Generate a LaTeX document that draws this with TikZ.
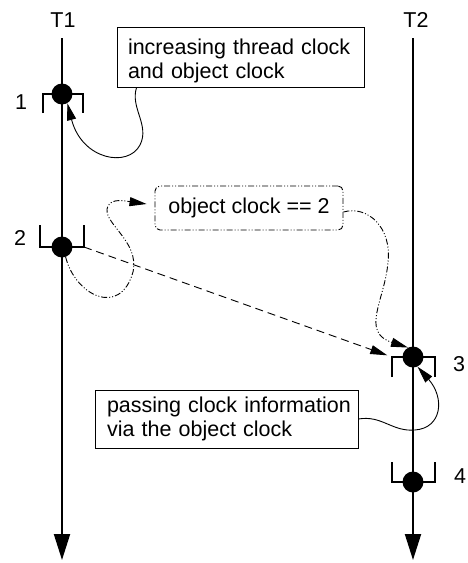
\documentclass[tikz,border=0pt]{standalone}
\usepackage{fontspec}
\setmainfont{Liberation Sans}
\usetikzlibrary{arrows.meta,calc}
\begin{document}
\begin{tikzpicture}[x=1pt,y=-1pt,
  every node/.style={font=\fontsize{21.5}{23.5}\selectfont},
  axis/.style={line width=2pt,-{Triangle[length=26pt,width=16pt]}},
  brk/.style={line width=1.8pt},
  event/.style={circle,fill=black,minimum size=21pt,inner sep=0pt},
  note/.style={draw,line width=0.9pt,align=left,inner ysep=0pt},
  link/.style={line width=0.9pt,-{Triangle[length=17pt,width=9pt]}},
  dashdot/.style={dash pattern=on 6pt off 2pt on 1pt off 2pt on 1pt off 2pt},
]
\useasboundingbox (0,0) rectangle (467,563);

% thread time lines
\node (t1) at (63,20) {T1};
\node (t2) at (416,20) {T2};
\coordinate (t1top) at (62,38);
\coordinate (t1end) at (62,560);
\coordinate (t2top) at (413,38);
\coordinate (t2end) at (413,560);
\draw[axis] (t1top) -- (t1end);
\draw[axis] (t2top) -- (t2end);

% synchronisation brackets
\draw[brk] (43,113) |- (83,94) -- (83,113);
\draw[brk] (40,225) |- (84,247) -- (84,225);
\draw[brk] (392,377) |- (435,357) -- (435,377);
\draw[brk] (392,462) |- (435,482) -- (435,462);
\coordinate (b2r) at (84,247);
\coordinate (b3l) at (392,357);

% events
\node[event] (e1) at (62,94) {};
\node[event] (e2) at (62,247) {};
\node[event] (e3) at (413,357) {};
\node[event] (e4) at (413,482) {};
\node (n1) at (21,102) {1};
\node (n2) at (20,238) {2};
\node (n3) at (459,364) {3};
\node (n4) at (460,476) {4};

% notes
\node[note,text width=225pt,inner xsep=11pt,minimum height=60pt] (box1) at (240.5,57)
  {\rule{0pt}{23.5pt}increasing thread clock\\and object clock};
\node[note,text width=239pt,inner xsep=12pt,minimum height=58pt] (box3) at (226.5,419)
  {\mbox{passing clock information}\\via the object clock};
\node[draw,line width=0.9pt,dashdot,rounded corners=5pt,minimum width=188pt,
  minimum height=44pt,inner sep=0pt] (box2) at (249,208) {object clock == 2};

% connectors
\draw[link] ([xshift=20pt]box1.south west) .. controls (130,108) and (150,125) .. (140,145)
  .. controls (128,168) and (82,160) .. (e1.-60);
\draw[link] (box3.east) .. controls (382,415) and (392,432) .. (415,430)
  .. controls (442,428) and (445,398) .. (e3.-65);
\draw[link,dash pattern=on 8pt off 5pt,shorten >=5pt] (b2r) -- (b3l);
\draw[link,dashdot] (e2.-70) .. controls (75,295) and (120,318) .. (133,272)
  .. controls (140,240) and (100,222) .. (108,206)
  .. controls (112,198) and (125,201) .. ([xshift=-8pt,yshift=4pt]box2.west);
\draw[link,dashdot] ([yshift=-4pt]box2.east) .. controls (368,205) and (392,228) .. (388,262)
  .. controls (385,300) and (360,332) .. (e3.118);
\end{tikzpicture}
\end{document}
